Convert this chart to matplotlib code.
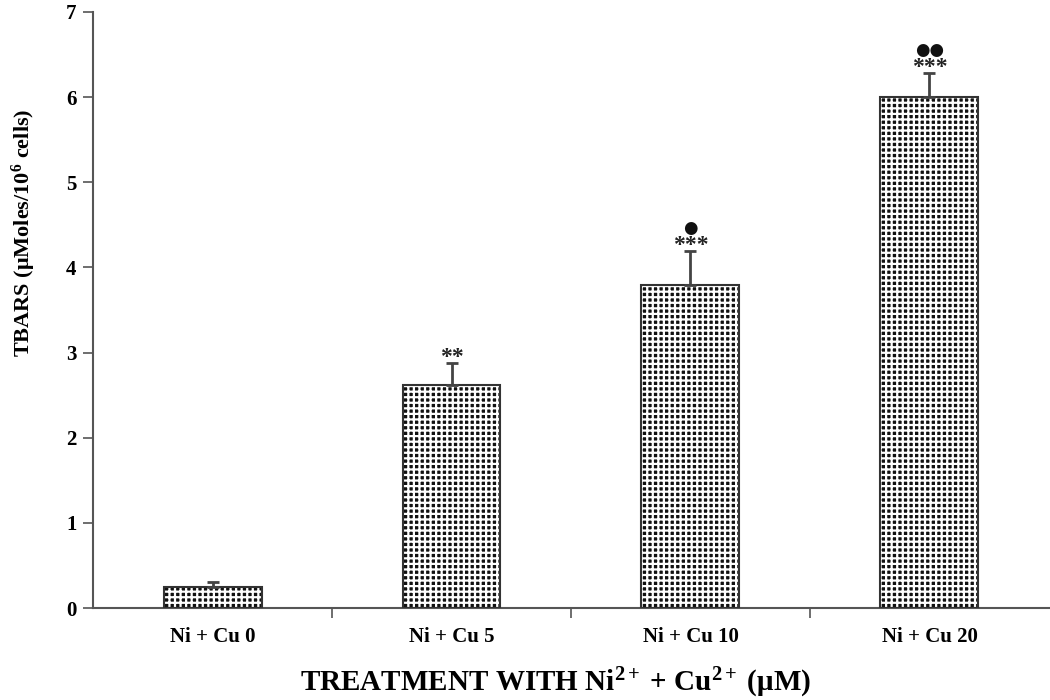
import matplotlib
matplotlib.use("Agg")
import matplotlib.pyplot as plt
import numpy as np

categories = ["Ni + Cu 0", "Ni + Cu 5", "Ni + Cu 10", "Ni + Cu 20"]
values = [0.25, 2.62, 3.79, 6.00]
errors = [0.055, 0.26, 0.40, 0.28]
stars = ["", "**", "***", "***"]
dots = ["", "", "\u25CF", "\u25CF\u25CF"]

plt.rcParams['font.family'] = ['Liberation Serif', 'DejaVu Serif']
plt.rcParams['mathtext.fontset'] = 'custom'
plt.rcParams['mathtext.rm'] = 'Liberation Serif'
plt.rcParams['mathtext.bf'] = 'Liberation Serif:bold'
plt.rcParams['mathtext.it'] = 'Liberation Serif:italic'
plt.rcParams['hatch.linewidth'] = 1.6
plt.rcParams['hatch.color'] = 'white'

fig = plt.figure(figsize=(10.5, 7), dpi=100)
ax = fig.add_axes([0.0886, 0.1314, 0.9104, 0.8516])

x = np.arange(len(categories))
width = 0.41
ax.bar(x, values, width=width, color='#111111', hatch='+++', edgecolor='white', linewidth=0, zorder=2)
ax.bar(x, values, width=width, fill=False, edgecolor='#333333', linewidth=1.5, zorder=3)
ax.errorbar(x, values, yerr=[np.zeros(len(values)), errors], fmt='none',
            ecolor='#444444', elinewidth=2, capsize=4, capthick=2, zorder=4)

for xi, v, e, s, d in zip(x, values, errors, stars, dots):
    top = v + e
    if s:
        ax.text(xi, top - 0.06, s, ha='center', va='bottom', fontsize=17,
                fontweight='bold', color='#222222')
    if d:
        ax.text(xi, top + 0.27, d, ha='center', va='center', fontsize=12,
                color='#111111', family=['DejaVu Sans'])

ax.set_xlim(-0.5, len(categories) - 0.5)
ax.set_ylim(0, 7)
ax.set_yticks(range(0, 8))
ax.set_yticklabels([str(i) for i in range(0, 8)], fontsize=15, fontweight='bold')
ax.set_xticks(x)
ax.set_xticklabels(categories, fontsize=15, fontweight='bold')
ax.tick_params(axis='x', length=0, pad=14)
ax.set_xticks(np.arange(0.5, len(categories) - 0.5, 1), minor=True)
ax.tick_params(axis='x', which='minor', length=7, width=1.2, color='#555555', direction='out')
ax.tick_params(axis='y', length=7, width=1.2, color='#555555', direction='out', pad=5)

for side in ['top', 'right']:
    ax.spines[side].set_visible(False)
for side in ['left', 'bottom']:
    ax.spines[side].set_color('#555555')
    ax.spines[side].set_linewidth(1.5)

ax.set_xlabel("TREATMENT WITH Ni$^{\\mathbf{2+}}$ + Cu$^{\\mathbf{2+}}$ (\u03bcM)",
              fontsize=21, fontweight='bold')
ax.xaxis.set_label_coords(0.484, -0.097)
ax.set_ylabel("TBARS (\u03bcMoles/10$^{\\mathbf{6}}$ cells)", fontsize=16, fontweight='bold')
ax.yaxis.set_label_coords(-0.058, 0.63)

fig.savefig("out.png", dpi=100)
